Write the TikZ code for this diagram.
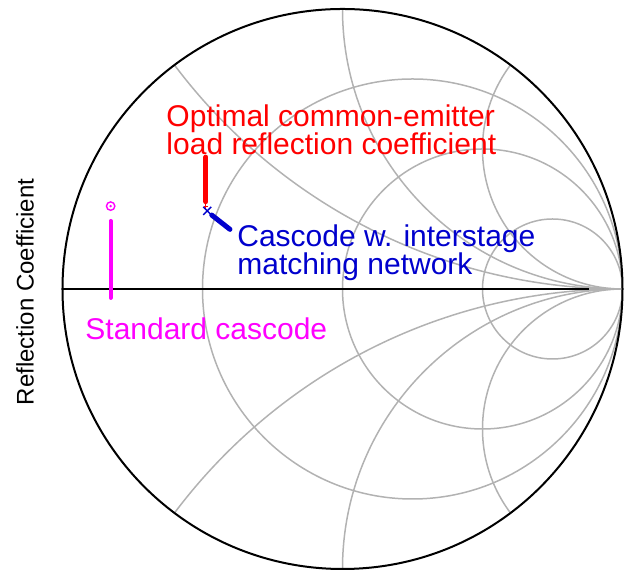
\documentclass[tikz,border=0pt]{standalone}
\usepackage{fontspec}
\setmainfont{Liberation Sans}
\definecolor{chartgray}{RGB}{178,178,178}
\definecolor{cascblue}{RGB}{0,0,205}
\definecolor{stdmagenta}{RGB}{255,0,255}
\tikzstyle{chartline} = [draw=chartgray, line width=0.75pt]
\tikzstyle{rim} = [draw=black, line width=1pt]
\tikzstyle{trace} = [line width=2.5pt, line cap=round]
\tikzstyle{note} = [inner sep=0pt, align=left, anchor=base west, font=\fontsize{15}{14}\selectfont]

\begin{document}
\begin{tikzpicture}[x=140pt, y=140pt]
    \useasboundingbox (-1.2232,-1.0071) rectangle (1.0089,1.0321);

    % Smith chart: r = 1/3, 1, 3 and x = +-0.5, +-1, +-2
    \begin{scope}
        \clip (0,0) circle (1);
        \path [chartline] (-1,0) -- (1,0);
        \foreach \r in {0.333333,1,3} {
            \path [chartline] ({\r/(\r+1)},0) circle ({1/(\r+1)});
        }
        \foreach \x in {0.5,1,2} {
            \path [chartline] (1,{1/\x}) circle ({1/\x});
            \path [chartline] (1,{-1/\x}) circle ({1/\x});
        }
    \end{scope}
    \path [rim] (-1,0) -- (0.88,0);
    \path [rim] (0,0) circle (1);

    % Measured points
    \coordinate (stdpt) at (-0.828,0.296);
    \coordinate (stdtop) at (-0.828,0.243);
    \coordinate (stdbot) at (-0.828,-0.032);
    \coordinate (cetop) at (-0.4875,0.471);
    \coordinate (cebot) at (-0.4875,0.312);
    \coordinate (cept) at (-0.4875,0.296);
    \coordinate (ismpt) at (-0.483,0.279);
    \coordinate (ismtop) at (-0.467,0.264);
    \coordinate (ismbot) at (-0.402,0.213);

    \path [draw=stdmagenta, line width=0.7pt] (stdpt) circle (2.1pt);
    \fill [stdmagenta] (stdpt) circle (0.65pt);
    \path [trace, draw=stdmagenta, line width=2pt] (stdtop) -- (stdbot);

    \path [trace, draw=red] (cetop) -- (cebot);
    \path [draw=red, line width=0.5pt] ([xshift=-1.2pt]cept) -- ([xshift=1.2pt]cept)
        ([yshift=-1.2pt]cept) -- ([yshift=1.2pt]cept);

    \path [draw=cascblue, line width=0.75pt] ([shift={(-2pt,-2pt)}]ismpt) -- ([shift={(2pt,2pt)}]ismpt)
        ([shift={(-2pt,2pt)}]ismpt) -- ([shift={(2pt,-2pt)}]ismpt);
    \path [trace, draw=cascblue] (ismtop) -- (ismbot);

    % Labels (anchored on the baseline of the last line)
    \node [note, red] (optimal) at (-0.630,0.4786) {Optimal common-emitter\\load reflection coefficient};
    \node [note, cascblue] (interstage) at (-0.3768,0.050) {Cascode w. interstage\\matching network};
    \node [note, stdmagenta] (standard) at (-0.9196,-0.182) {Standard cascode};
    \node [rotate=90, inner sep=0pt, font=\fontsize{12}{14}\selectfont] (axis) at (-1.134,-0.011) {Reflection Coefficient};
\end{tikzpicture}
\end{document}
